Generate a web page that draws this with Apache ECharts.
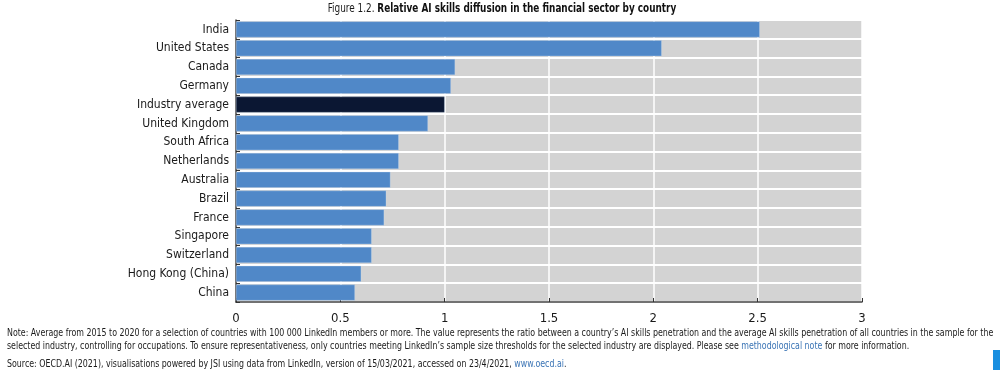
<!DOCTYPE html>
<html><head><meta charset="utf-8">
<script src="https://cdn.jsdelivr.net/npm/echarts@6/dist/echarts.min.js"></script>
<style>html,body{margin:0;padding:0;background:#fff}#c{width:1000px;height:370px}</style>
</head><body><div id="c"></div>
<script>
const categories = ["India","United States","Canada","Germany","Industry average","United Kingdom","South Africa","Netherlands","Australia","Brazil","France","Singapore","Switzerland","Hong Kong (China)","China"];
const values = [2.51,2.04,1.05,1.03,1.0,0.92,0.78,0.78,0.74,0.72,0.71,0.65,0.65,0.60,0.57];
const highlight = "Industry average";
const xTicks = [0,0.5,1,1.5,2,2.5,3];
const titlePrefix = "Figure 1.2. ";
const titleMain = "Relative AI skills diffusion in the financial sector by country";
const noteLine1 = "Note: Average from 2015 to 2020 for a selection of countries with 100 000 LinkedIn members or more. The value represents the ratio between a country’s AI skills penetration and the average AI skills penetration of all countries in the sample for the";
const noteLine2a = "selected industry, controlling for occupations. To ensure representativeness, only countries meeting LinkedIn’s sample size thresholds for the selected industry are displayed. Please see ";
const noteLink = "methodological note";
const noteLine2b = " for more information.";
const sourceA = "Source: OECD.AI (2021), visualisations powered by JSI using data from LinkedIn, version of 15/03/2021, accessed on 23/4/2021, ";
const sourceLink = "www.oecd.ai";
const sourceB = ".";

const FONT = "'Liberation Sans Narrow','DejaVu Sans Condensed','Roboto',sans-serif";
const TXT = '#1a1a1a', LINK = '#3a74b5';
const chart = echarts.init(document.getElementById('c'), null, {renderer:'canvas'});
const data = categories.map((c,i)=>({value:values[i], itemStyle:{color: c===highlight ? '#0b1733' : '#5088c8'}}));
const noteStyle = (extra)=>Object.assign({fontFamily:FONT,fontSize:10.5},extra);
chart.setOption({
  animation:false,
  grid:{left:236,right:138,top:20,bottom:68,show:true,backgroundColor:'#d3d3d3',borderWidth:0},
  xAxis:{
    type:'value',min:0,max:3,interval:0.5,
    axisLine:{show:true,lineStyle:{color:'#444',width:1.5}},
    axisTick:{show:true,inside:true,length:4,lineStyle:{color:'#333'}},
    splitLine:{show:true,lineStyle:{color:'#fff',width:1.5}},
    axisLabel:{fontFamily:FONT,fontSize:13,color:TXT,margin:10,
      formatter:v=>xTicks.includes(v)?String(v):''}
  },
  yAxis:{
    type:'category',data:categories,inverse:true,
    axisLine:{show:true,lineStyle:{color:'#444',width:1.5}},
    axisTick:{show:true,inside:true,length:4,lineStyle:{color:'#333'}},
    splitLine:{show:true,lineStyle:{color:'#fff',width:2}},
    axisLabel:{fontFamily:FONT,fontSize:12,color:TXT,margin:7}
  },
  series:[{type:'bar',data:data,barWidth:16,itemStyle:{borderColor:'rgba(200,220,245,0.6)',borderWidth:0.5}}],
  graphic:[
    {type:'text',x:502,y:2,scaleX:0.76,originX:0,style:{
      text:'{a|'+titlePrefix+'}{b|'+titleMain+'}',align:'center',
      rich:{a:{fontFamily:FONT,fontSize:13,fill:TXT},b:{fontFamily:FONT,fontSize:13,fontWeight:'bold',fill:'#111'}}}},
    {type:'text',x:7,y:328,scaleX:0.835,originX:0,style:noteStyle({text:noteLine1,fill:TXT})},
    {type:'text',x:7,y:341,scaleX:0.835,originX:0,style:{
      text:'{n|'+noteLine2a+'}{l|'+noteLink+'}{n|'+noteLine2b+'}',
      rich:{n:noteStyle({fill:TXT}),l:noteStyle({fill:LINK})}}},
    {type:'text',x:7,y:359,scaleX:0.835,originX:0,style:{
      text:'{n|'+sourceA+'}{l|'+sourceLink+'}{n|'+sourceB+'}',
      rich:{n:noteStyle({fill:TXT}),l:noteStyle({fill:LINK})}}},
    {type:'rect',shape:{x:993,y:350,width:7,height:20},style:{fill:'#1a8fe0'}}
  ]
});
</script></body></html>
